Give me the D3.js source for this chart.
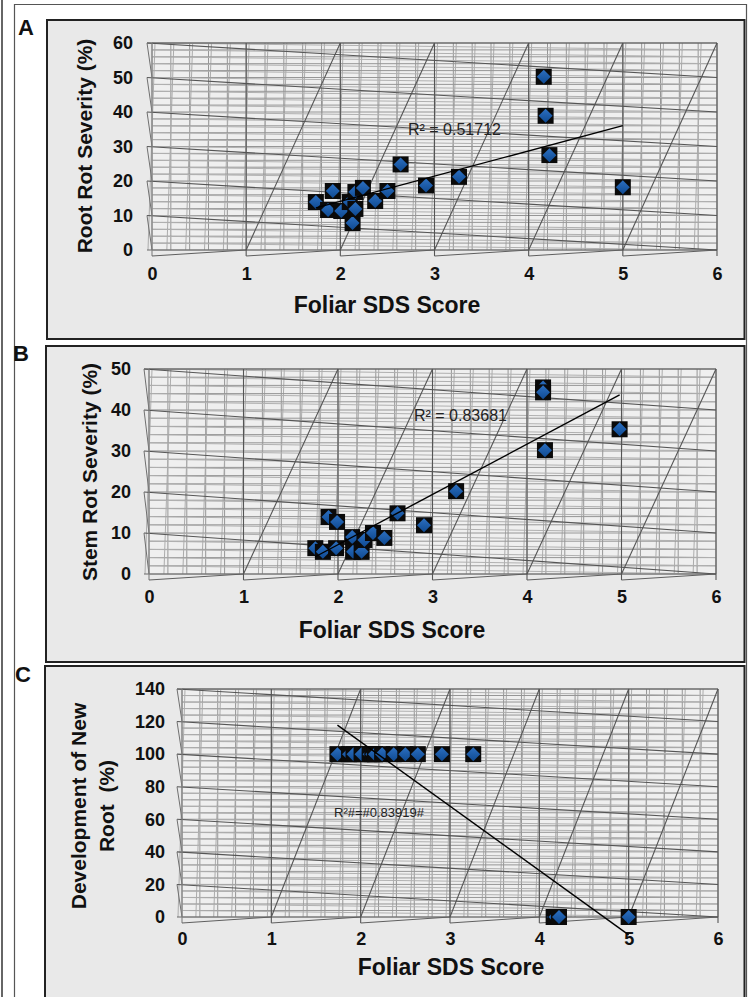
<!DOCTYPE html>
<html><head><meta charset="utf-8">
<script src="https://cdn.jsdelivr.net/npm/d3@7"></script>
<style>
body{margin:0;background:#fff;}
svg{display:block;font-family:"Liberation Sans",Arial,sans-serif;}
</style></head><body>
<svg id="chart" width="749" height="997"></svg>
<script>
// Foliar SDS score of each plant and the matching severity readings
const foliarScoreA = [1.74,1.87,1.92,2.01,2.10,2.13,2.16,2.16,2.24,2.37,2.50,2.64,2.91,3.26,4.16,4.18,4.22,5.00];
const rootRotSeverity = [13.9,11.6,17.1,11.3,13.9,7.8,11.9,16.8,18.0,14.2,17.1,24.8,18.7,21.2,50.2,38.9,27.5,18.2];
const foliarScoreB = [1.76,1.84,1.90,1.98,1.99,2.15,2.16,2.25,2.28,2.37,2.49,2.63,2.91,3.25,4.17,4.17,4.19,4.98];
const stemRotSeverity = [6.3,5.4,13.9,6.3,12.7,9.0,5.4,5.4,8.3,10.0,8.8,14.8,11.9,20.2,45.5,44.3,30.2,35.3];
const newRootDevelopment = [100,100,100,100,100,100,100,100,100,100,100,100,100,100,0,0,0,0];
const scoreTicks = [0,1,2,3,4,5,6];
const rootRotTicks = [0,10,20,30,40,50,60];
const stemRotTicks = [0,10,20,30,40,50];
const newRootTicks = [0,20,40,60,80,100,120,140];
const panelLetters = ["A","B","C"];
const xTitle = "Foliar SDS Score";
const yTitles = [["Root Rot Severity (%)"],["Stem Rot Severity (%)"],["Development of New","Root  (%)"]];
const r2Labels = ["R² = 0.51712","R² = 0.83681","R²#=#0.83919#"];

const svg = d3.select("#chart");
const defs = svg.append("defs");
const grad = defs.append("linearGradient").attr("id","dia").attr("x1",0).attr("y1",0).attr("x2",0).attr("y2",1);
grad.append("stop").attr("offset","0%").attr("stop-color","#2c6fc0");
grad.append("stop").attr("offset","100%").attr("stop-color","#0f4a92");

// page frame
svg.append("rect").attr("x",0).attr("y",0).attr("width",749).attr("height",997).attr("fill","#fff");
svg.append("line").attr("x1",2).attr("x2",2).attr("y1",0).attr("y2",997).attr("stroke","#333").attr("stroke-width",1.5);
svg.append("path").attr("d","M14.5,997V4.5H746.5V997").attr("fill","none").attr("stroke","#555").attr("stroke-width",1.2);

const panels = [
  {box:[47,20,744.5,339], xr:[152,717], yr:[250,43], ymax:60, major:10, ticks:rootRotTicks,
   xs:foliarScoreA, ys:rootRotSeverity, letter:[18,35], yPad:14, xPad:17,
   xTitle:[387,313], yTitle:[85,146], r2:[408,135], r2size:16},
  {box:[46,346,744.5,662], xr:[149,716], yr:[574,369], ymax:50, major:10, ticks:stemRotTicks,
   xs:foliarScoreB, ys:stemRotSeverity, letter:[13,361], yPad:13, xPad:16,
   xTitle:[392,638], yTitle:[90,472], r2:[414,421], r2size:16},
  {box:[45,666,744.5,1000], xr:[182,718], yr:[917,689], ymax:140, major:20, ticks:newRootTicks,
   xs:foliarScoreA, ys:newRootDevelopment, letter:[15,682], yPad:12, xPad:15,
   xTitle:[451,975], yTitle:[93,806], r2:[334,817], r2size:13}
];

panels.forEach((p,i) => {
  const [bx0,by0,bx1,by1] = p.box;
  svg.append("rect").attr("x",bx0).attr("y",by0).attr("width",bx1-bx0).attr("height",by1-by0)
    .attr("fill","#e9e9e9").attr("stroke","#222").attr("stroke-width",2);

  const x = d3.scaleLinear().domain([0,6]).range(p.xr);
  const y = d3.scaleLinear().domain([0,p.ymax]).range(p.yr);
  const g = svg.append("g");
  const x0 = x(0), x6 = x(6), yT = y(p.ymax), yB = y(0);
  const minor = p.major/5;

  g.append("rect").attr("x",x0).attr("y",yT).attr("width",x6-x0).attr("height",yB-yT).attr("fill","#efefef");

  const line = (a,b,c,d,col,w) => g.append("line").attr("x1",a).attr("y1",b).attr("x2",c).attr("y2",d)
      .attr("stroke",col).attr("stroke-width",w||1);

  // light minor grid
  d3.range(0, 6.0001, 0.2).forEach(v => {
    line(x(v), yT, x(v), yB, "#969696");
    if (v < 5.99) line(x(v)+3, yT, x(v)-4, yB, "#acacac");
  });
  d3.range(0, p.ymax+0.001, minor).forEach(v => {
    line(x0, y(v), x6, y(v), "#969696");
    if (v >= minor) line(x0, y(v), x6, y(v-minor), "#b0b0b0");
  });

  // darker major frame of the grid
  const dark = "#555";
  line(x0-5, yT, x6, yT, dark);
  line(x0-5, yB, x6, yB, "#6a6a6a");
  p.ticks.filter(v => v >= p.major).forEach(v => {
    line(x0-5, y(v), x6, y(v-p.major), dark, 1.1);
    line(x0-5, y(v), x0, y(v-p.major), "#707070");
  });
  scoreTicks.forEach(k => {
    line(x(k), yT, x(k), yB+6, k === 0 ? "#808080" : dark, 1.1);
    if (k >= 1 && k < 6) line(x(k), yB, x(k+1), yT, dark, 1.1);
    if (k < 6) line(x(k), yB+6, x(k+1), yB, "#5f5f5f");
  });

  // axes labels
  const ay = svg.append("g").attr("transform",`translate(${x0-5},0)`)
    .call(d3.axisLeft(y).tickValues(p.ticks).tickSize(0).tickPadding(p.yPad));
  const ax = svg.append("g").attr("transform",`translate(0,${yB})`)
    .call(d3.axisBottom(x).tickValues(scoreTicks).tickSize(0).tickPadding(p.xPad).tickFormat(d3.format("d")));
  [ay,ax].forEach(a => {
    a.select(".domain").remove();
    a.selectAll("text").attr("font-size",18).attr("font-weight","bold").attr("fill","#111")
      .attr("font-family","'Liberation Sans',Arial,sans-serif");
  });

  // markers
  const pts = p.xs.map((v,j) => [v, p.ys[j]]);
  const mk = svg.append("g").selectAll("g").data(pts).join("g")
    .attr("transform", d => `translate(${x(d[0])},${y(d[1])})`);
  mk.append("rect").attr("x",-8).attr("y",-8).attr("width",16).attr("height",16).attr("fill","#0a0a0a");
  mk.append("path").attr("d","M0,-7L7,0L0,7L-7,0Z").attr("fill","url(#dia)");

  // least-squares trend line across the observed score range
  const mx = d3.mean(p.xs), my = d3.mean(p.ys);
  const slope = d3.sum(pts, d => (d[0]-mx)*(d[1]-my)) / d3.sum(pts, d => (d[0]-mx)**2);
  const fit = v => my + slope*(v-mx);
  const [lo,hi] = d3.extent(p.xs);
  svg.append("line").attr("x1",x(lo)).attr("y1",y(fit(lo))).attr("x2",x(hi)).attr("y2",y(fit(hi)))
    .attr("stroke","#000").attr("stroke-width",1.4);

  svg.append("text").attr("x",p.r2[0]).attr("y",p.r2[1]).attr("font-size",p.r2size)
    .attr("fill","#222").text(r2Labels[i]);

  // titles
  svg.append("text").attr("x",p.letter[0]).attr("y",p.letter[1]).attr("font-size",22)
    .attr("font-weight","bold").attr("fill","#111").text(panelLetters[i]);
  svg.append("text").attr("x",p.xTitle[0]).attr("y",p.xTitle[1]).attr("text-anchor","middle")
    .attr("font-size",23).attr("font-weight","bold").attr("fill","#111").text(xTitle);
  const yt = svg.append("text").attr("transform",`translate(${p.yTitle[0]},${p.yTitle[1]}) rotate(-90)`)
    .attr("text-anchor","middle").attr("font-size",21).attr("font-weight","bold").attr("fill","#111")
    .style("white-space","pre");
  const lines = yTitles[i];
  lines.forEach((t,j) => {
    yt.append("tspan").attr("x",0).attr("y",(j - (lines.length-1)/2)*28 + 7).text(t);
  });
});
</script>
</body></html>
